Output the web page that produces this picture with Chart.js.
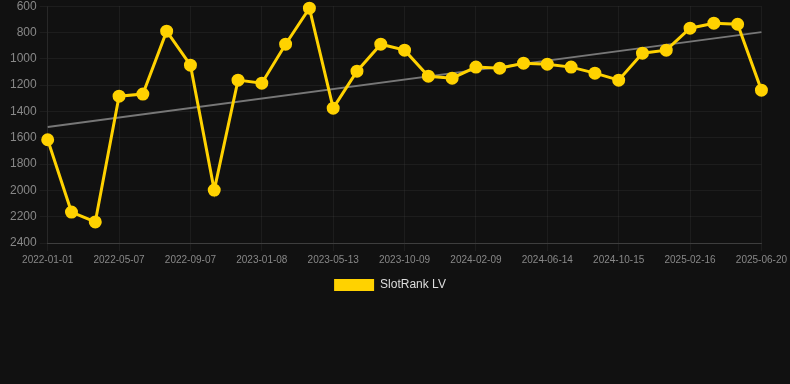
<!DOCTYPE html>
<html>
<head>
<meta charset="utf-8">
<script src="https://cdn.jsdelivr.net/npm/chart.js@4"></script>
<style>
  html, body { margin: 0; padding: 0; background: #111111; overflow: hidden; }
  #wrap { width: 790px; height: 305px; position: relative; margin-top: -4px; }
</style>
</head>
<body>
<div id="wrap"><canvas id="rankChart"></canvas></div>
<script>
const dates = [
    '2022-01-01', '2022-02-12', '2022-03-25', '2022-05-07', '2022-06-16', '2022-07-28',
    '2022-09-07', '2022-10-19', '2022-11-28', '2023-01-08', '2023-02-19', '2023-03-31',
    '2023-05-13', '2023-07-01', '2023-08-20', '2023-10-09', '2023-11-20', '2023-12-30',
    '2024-02-09', '2024-03-22', '2024-05-03', '2024-06-14', '2024-07-26', '2024-09-04',
    '2024-10-15', '2024-11-26', '2025-01-05', '2025-02-16', '2025-03-29', '2025-05-09',
    '2025-06-20'
];
const ranks = [
    1615, 2165, 2240, 1284, 1268, 790, 1048, 1998, 1162, 1185, 889, 615,
    1375, 1094, 889, 934, 1132, 1147, 1063, 1071, 1033, 1041, 1063, 1109,
    1162, 957, 934, 767, 729, 737, 1238
];
// trend line end points (first and last date)
const trendEnds = [1519, 797];

const trendData = dates.map((d, i) => i === 0 ? trendEnds[0] : (i === dates.length - 1 ? trendEnds[1] : null));

// nudge the legend a little to the left, like the original
const legendShift = {
    id: 'legendShift',
    afterUpdate(chart) {
        if (chart.legend) {
            chart.legend.left -= 7;
            chart.legend.right -= 7;
        }
    }
};

const ctx = document.getElementById('rankChart').getContext('2d');
new Chart(ctx, {
    type: 'line',
    data: {
        labels: dates,
        datasets: [
            {
                label: 'SlotRank LV',
                data: ranks,
                borderColor: '#FFD200',
                backgroundColor: '#FFD200',
                borderWidth: 3,
                pointRadius: 5,
                pointHoverRadius: 6,
                pointBackgroundColor: '#FFD200',
                pointBorderColor: '#FFD200',
                tension: 0,
                clip: false
            },
            {
                label: 'trend',
                data: trendData,
                borderColor: '#777777',
                borderWidth: 2,
                pointRadius: 0,
                spanGaps: true,
                tension: 0
            }
        ]
    },
    options: {
        responsive: true,
        maintainAspectRatio: false,
        animation: false,
        layout: { padding: { left: 7, right: 3 } },
        plugins: {
            legend: {
                position: 'bottom',
                labels: {
                    color: '#dddddd',
                    font: { family: 'Liberation Sans, Arial', size: 12 },
                    boxWidth: 40,
                    boxHeight: 12,
                    filter: item => item.text !== 'trend',
                    generateLabels: chart => {
                        const items = Chart.defaults.plugins.legend.labels.generateLabels(chart);
                        items.forEach(it => { it.lineWidth = 0; });
                        return items;
                    }
                }
            },
            tooltip: { enabled: false }
        },
        scales: {
            x: {
                ticks: {
                    color: '#888888',
                    font: { family: 'Liberation Sans, Arial', size: 10 },
                    maxRotation: 0,
                    autoSkip: true
                },
                grid: { color: 'rgba(255,255,255,0.05)' },
                border: { color: 'rgba(255,255,255,0.15)' }
            },
            y: {
                reverse: true,
                min: 600,
                max: 2400,
                ticks: {
                    stepSize: 200,
                    color: '#888888',
                    font: { family: 'Liberation Sans, Arial', size: 12 },
                    callback: v => String(v)
                },
                grid: { color: 'rgba(255,255,255,0.05)' },
                border: { color: 'rgba(255,255,255,0.05)' }
            }
        }
    },
    plugins: [legendShift]
});
</script>
</body>
</html>
